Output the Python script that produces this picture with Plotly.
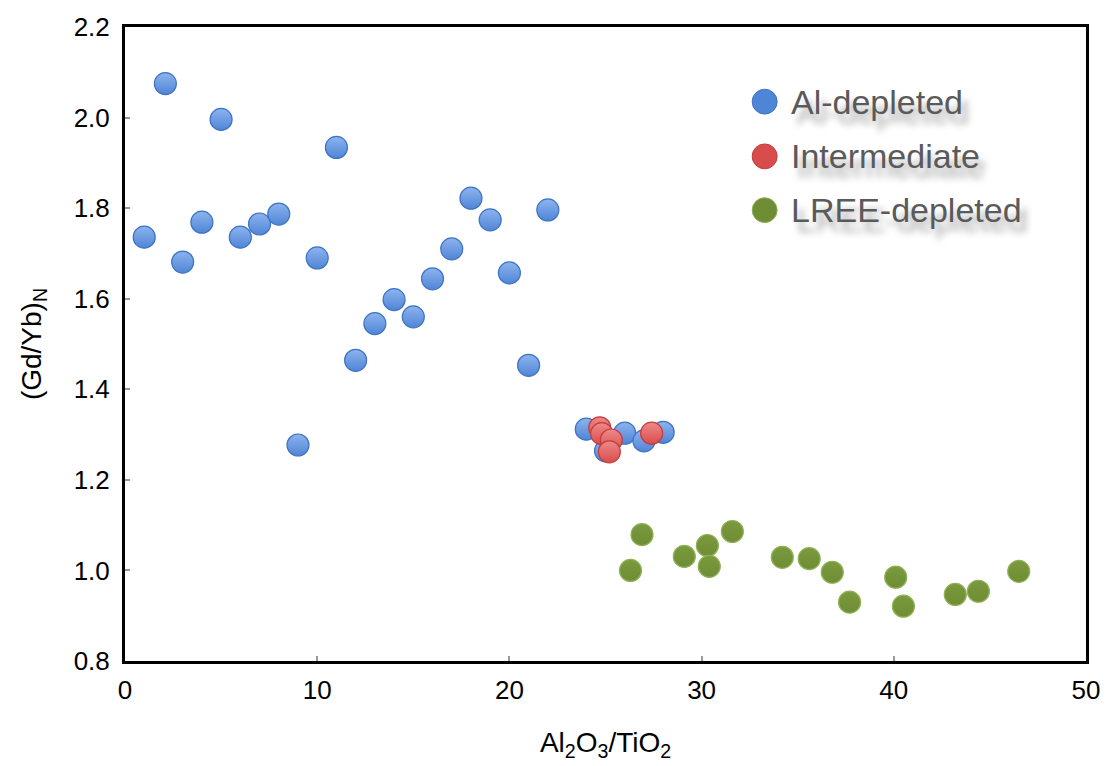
import plotly.graph_objects as go

# Al-depleted
al_x = [1, 2.1, 3, 4, 5, 6, 7, 8, 9, 10, 11, 12, 13, 14, 15, 16, 17, 18, 19, 20, 21, 22, 24, 25, 26, 27, 28]
al_y = [1.736, 2.075, 1.681, 1.769, 1.996, 1.736, 1.765, 1.787, 1.277, 1.69, 1.934, 1.464, 1.545, 1.598,
        1.56, 1.644, 1.71, 1.822, 1.774, 1.657, 1.453, 1.796, 1.312, 1.264, 1.303, 1.286, 1.305]
# Intermediate
int_x = [24.7, 24.8, 25.3, 25.2, 27.4]
int_y = [1.315, 1.302, 1.288, 1.262, 1.303]
# LREE-depleted
lr_x = [26.9, 26.3, 29.1, 30.3, 30.4, 31.6, 34.2, 35.6, 36.8, 37.7, 40.1, 40.5, 43.2, 44.4, 46.5]
lr_y = [1.079, 1.0, 1.031, 1.055, 1.009, 1.086, 1.029, 1.026, 0.996, 0.93, 0.985, 0.921, 0.947, 0.954, 0.998]

x_ticks = [0, 10, 20, 30, 40, 50]
y_ticks = [0.8, 1.0, 1.2, 1.4, 1.6, 1.8, 2.0, 2.2]

series = [
    ("Al-depleted", al_x, al_y, "#8db4ee", "#4f85d6", "#3f74c4"),
    ("Intermediate", int_x, int_y, "#ee8a8a", "#d84c4c", "#c43c3c"),
    ("LREE-depleted", lr_x, lr_y, "#7a9a3e", "#6f8d34", "#8fb255"),
]

fig = go.Figure()
for name, xs, ys, top, bottom, edge in series:
    fig.add_trace(go.Scatter(
        x=xs, y=ys, mode="markers", name=name, showlegend=False,
        marker=dict(size=22, color=top, line=dict(color=edge, width=1.2),
                    gradient=dict(type="vertical", color=bottom)),
    ))

# Manual legend (large markers + shadowed grey text)
W, H = 963.0, 637.0  # plot area size in px
leg_x_px, txt_x_px = 766 - 125, 790 - 125
leg_y_px = [100 - 25, 155 - 25, 209 - 25]
r = 12.5
for (name, xs, ys, top, bottom, edge), yp in zip(series, leg_y_px):
    cx = leg_x_px / W
    cy = 1 - yp / H
    fig.add_shape(type="circle", xref="paper", yref="paper",
                  x0=cx - r / W, x1=cx + r / W, y0=cy - r / H, y1=cy + r / H,
                  fillcolor=bottom, line=dict(color=edge, width=1))
    fig.add_annotation(x=txt_x_px / W, y=cy, xref="paper", yref="paper",
                       text=name, showarrow=False, xanchor="left", yanchor="middle",
                       font=dict(family="Liberation Sans, Arial, sans-serif", size=34, color="#5a5a5a",
                                 shadow="6px 10px 7px rgba(0,0,0,0.35)"))

fig.update_layout(
    width=1112, height=766,
    margin=dict(l=125, r=24, t=25, b=104),
    plot_bgcolor="white", paper_bgcolor="white",
    showlegend=False,
    font=dict(family="Liberation Sans, Arial, sans-serif", color="black"),
    xaxis=dict(
        range=[0, 50], tickvals=x_ticks, ticktext=[str(v) for v in x_ticks],
        showgrid=False, zeroline=False, showline=True, mirror=True,
        linecolor="black", linewidth=3, ticks="inside", ticklen=5,
        tickcolor="#999999", tickwidth=2, tickfont=dict(size=26), ticklabelstandoff=4,
        title=dict(text="Al<sub>2</sub>O<sub>3</sub>/TiO<sub>2</sub>", font=dict(size=28), standoff=29),
    ),
    yaxis=dict(
        range=[0.8, 2.2], tickvals=y_ticks, ticktext=[f"{v:.1f}" for v in y_ticks],
        showgrid=False, zeroline=False, showline=True, mirror=True,
        linecolor="black", linewidth=3, ticks="inside", ticklen=5,
        tickcolor="#999999", tickwidth=2, tickfont=dict(size=26), ticklabelstandoff=7,
        title=dict(text="(Gd/Yb)<sub>N</sub>", font=dict(size=28), standoff=24),
    ),
)

fig.write_html("out.html")
